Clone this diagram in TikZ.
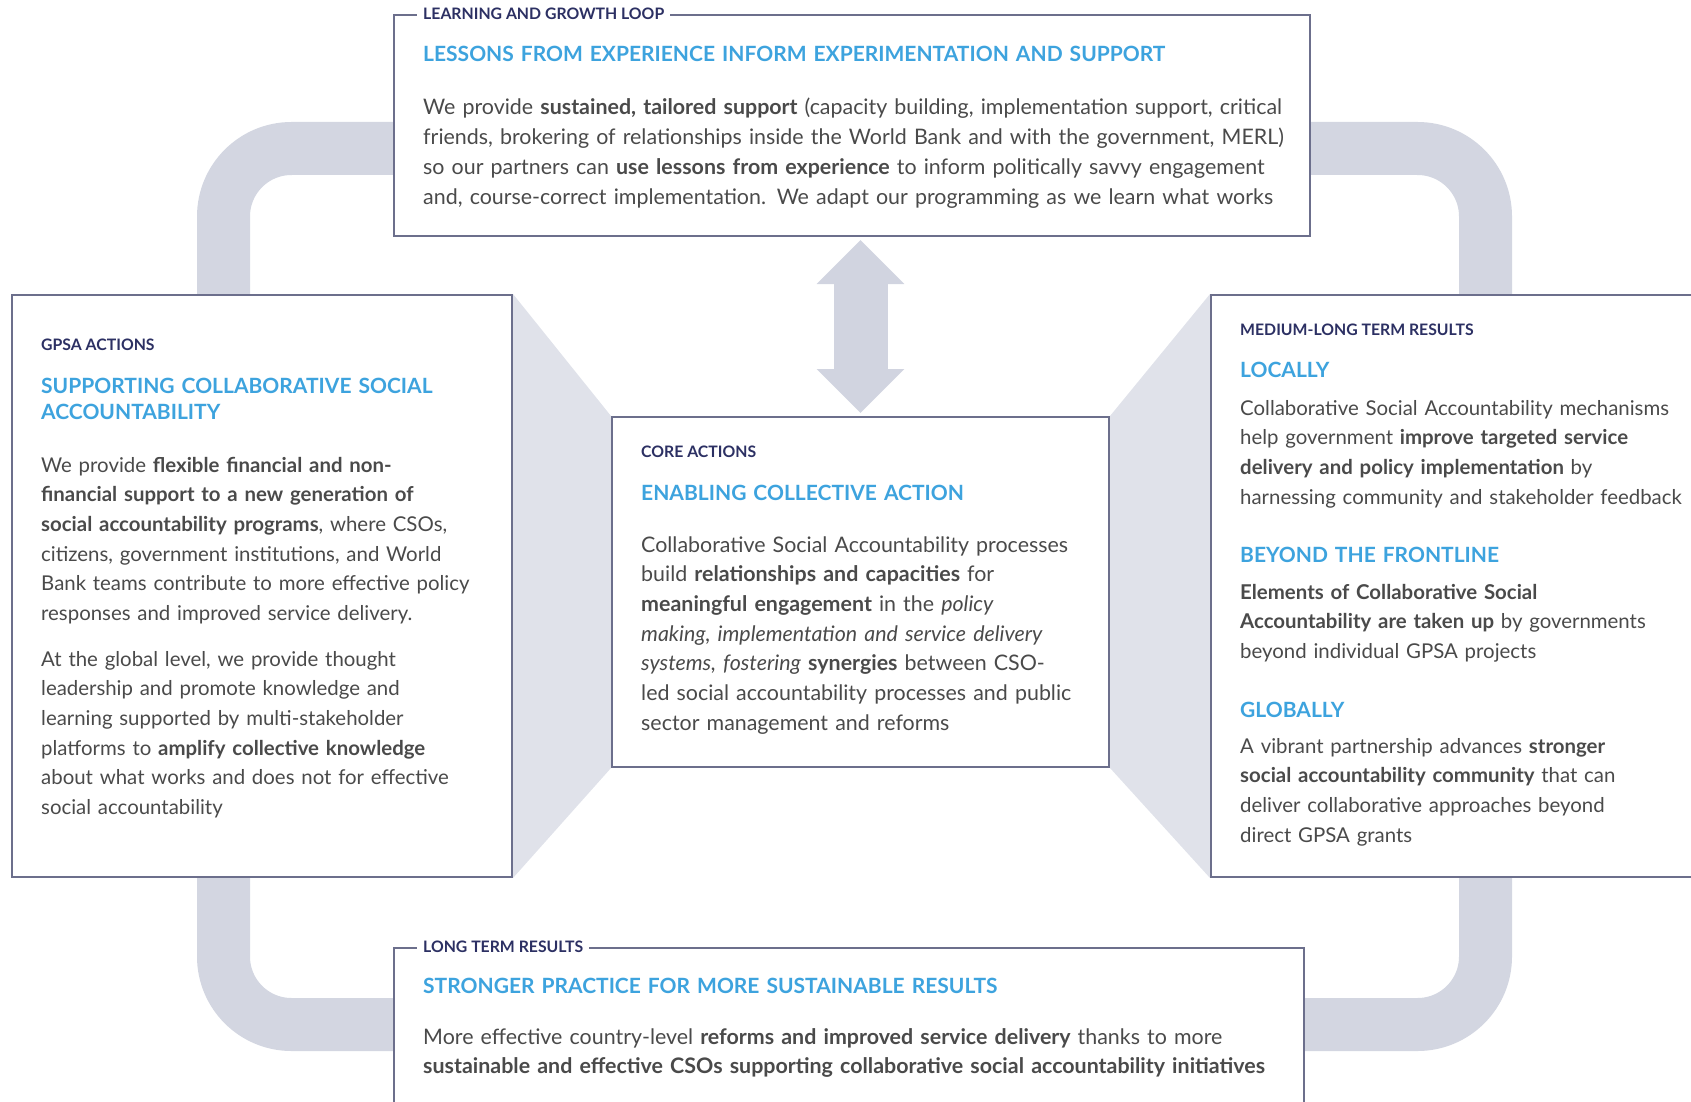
\documentclass[tikz,border=0pt]{standalone}
\usepackage{fontspec}
\setmainfont{Lato}
\usetikzlibrary{positioning,arrows.meta}

\definecolor{loopgray}{HTML}{D3D6E1}
\definecolor{funnelgray}{HTML}{E0E2EA}
\definecolor{arrowgray}{HTML}{D1D4E0}
\definecolor{boxline}{HTML}{6C6F8C}
\definecolor{tagnavy}{HTML}{2C3063}
\definecolor{headblue}{HTML}{3DA3DE}
\definecolor{bodygray}{HTML}{4A4A4A}

\pgfdeclarelayer{background}
\pgfsetlayers{background,main}

\tikzset{
    box/.style={draw=boxline, line width=2pt, fill=white, anchor=north west, inner sep=0pt},
    tag/.style={font=\fontsize{15.8}{18}\selectfont\bfseries, text=tagnavy, anchor=base west, inner sep=0pt},
    title/.style={font=\fontsize{21}{26}\selectfont\bfseries, text=headblue, anchor=base west, inner sep=0pt, text width=800pt, align=left},
    body/.style={font=\fontsize{20.4}{29.7}\selectfont, text=bodygray, anchor=base west, inner sep=0pt, text width=900pt, align=left},
    widebody/.style={body, font=\fontsize{21.4}{29.7}\selectfont},
    bordertag/.style={tag, anchor=west, fill=white, inner xsep=6pt, inner ysep=3pt},
    loopband/.style={draw=loopgray, line width=53pt, rounded corners=68pt},
    funnel/.style={fill=funnelgray},
    dblarrow/.style={draw=arrowgray, line width=54pt, {Triangle[width=85pt,length=44pt]}-{Triangle[width=85pt,length=44pt]}, shorten <=3pt, shorten >=3pt}
}

\begin{document}
\begin{tikzpicture}[x=1pt,y=-1pt]
    \useasboundingbox (0,0) rectangle (1691,1102);
    \clip (0,0) rectangle (1691,1102);

    \node[box, minimum width=916pt, minimum height=221pt] (learn) at (393,14) {};
    \node[box, minimum width=500pt, minimum height=582pt] (gpsa) at (11,294) {};
    \node[box, minimum width=497pt, minimum height=350pt] (core) at (611,416) {};
    \node[box, minimum width=520pt, minimum height=582pt] (results) at (1210,294) {};
    \node[box, minimum width=910pt, minimum height=220pt] (longterm) at (393,947) {};

    \begin{pgfonlayer}{background}
        \draw[loopband] (223.5,148.5) rectangle (1485.5,1024.5);
        \fill[funnel] (gpsa.north east) -- (core.north west) -- (core.south west) -- (gpsa.south east) -- cycle;
        \fill[funnel] (results.north west) -- (core.north east) -- (core.south east) -- (results.south west) -- cycle;
    \end{pgfonlayer}

    \draw[dblarrow] (core.north |- learn.south) -- (core.north);

    \node[bordertag] (looptag) at (417,14) {LEARNING AND GROWTH LOOP};
    \node[title] (looptitle) at (423,62) {LESSONS FROM EXPERIENCE INFORM EXPERIMENTATION AND SUPPORT};
    \node[widebody] (looptext) at (423,115) {We provide \textbf{sustained, tailored support} (capacity building, implementation support, critical\\
        friends, brokering of relationships inside the World Bank and with the government, MERL)\\
        so our partners can \textbf{use lessons from experience} to inform politically savvy engagement\\
        and, course-correct implementation. We adapt our programming as we learn what works};

    \node[tag] (gpsatag) at (41,350) {GPSA ACTIONS};
    \node[title] (gpsatitle) at (41,393) {SUPPORTING COLLABORATIVE SOCIAL\\ACCOUNTABILITY};
    \node[body] (gpsatext) at (41,472) {We provide \textbf{flexible financial and non-}\\
        \textbf{financial support to a new generation of}\\
        \textbf{social accountability programs}, where CSOs,\\
        citizens, government institutions, and World\\
        Bank teams contribute to more effective policy\\
        responses and improved service delivery.};
    \node[body] (gpsaglobal) at (41,666) {At the global level, we provide thought\\
        leadership and promote knowledge and\\
        learning supported by multi-stakeholder\\
        platforms to \textbf{amplify collective knowledge}\\
        about what works and does not for effective\\
        social accountability};

    \node[tag] (coretag) at (641,457) {CORE ACTIONS};
    \node[title] (coretitle) at (641,500) {ENABLING COLLECTIVE ACTION};
    \node[widebody] (coretext) at (641,552) {Collaborative Social Accountability processes\\
        build \textbf{relationships and capacities} for\\
        \textbf{meaningful engagement} in the \textit{policy}\\
        \textit{making, implementation and service delivery}\\
        \textit{systems, fostering} \textbf{synergies} between CSO-\\
        led social accountability processes and public\\
        sector management and reforms};

    \node[tag] (resultstag) at (1240,335) {MEDIUM-LONG TERM RESULTS};
    \node[title] (localtitle) at (1240,377) {LOCALLY};
    \node[body] (localtext) at (1240,415) {Collaborative Social Accountability mechanisms\\
        help government \textbf{improve targeted service}\\
        \textbf{delivery and policy implementation} by\\
        harnessing community and stakeholder feedback};
    \node[title] (fronttitle) at (1240,562) {BEYOND THE FRONTLINE};
    \node[body] (fronttext) at (1240,599) {\textbf{Elements of Collaborative Social}\\
        \textbf{Accountability are taken up} by governments\\
        beyond individual GPSA projects};
    \node[title] (globaltitle) at (1240,717) {GLOBALLY};
    \node[body] (globaltext) at (1240,753) {A vibrant partnership advances \textbf{stronger}\\
        \textbf{social accountability community} that can\\
        deliver collaborative approaches beyond\\
        direct GPSA grants};

    \node[bordertag] (longtag) at (417,947) {LONG TERM RESULTS};
    \node[title] (longtitle) at (423,993) {STRONGER PRACTICE FOR MORE SUSTAINABLE RESULTS};
    \node[widebody] (longtext) at (423,1044) {More effective country-level \textbf{reforms and improved service delivery} thanks to more\\
        \textbf{sustainable and effective CSOs supporting collaborative social accountability initiatives}};
\end{tikzpicture}
\end{document}
